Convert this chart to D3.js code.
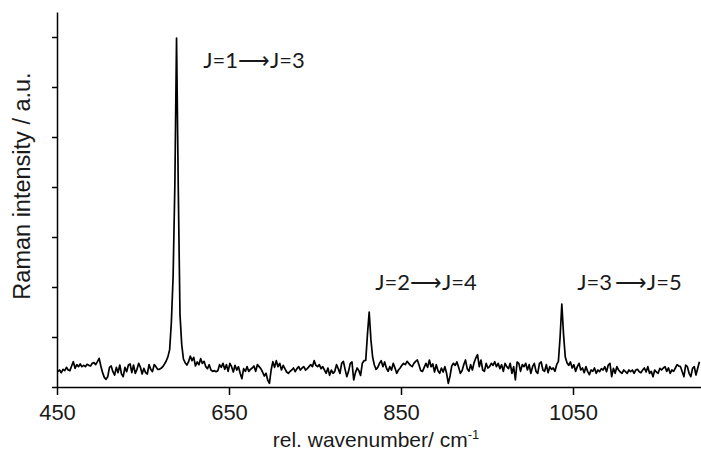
<!DOCTYPE html>
<html>
<head>
<meta charset="utf-8">
<script src="https://cdn.jsdelivr.net/npm/d3@7"></script>
<style>
  body { margin: 0; background: #fff; }
  svg { display: block; }
  .axis path, .axis line { stroke: #000; stroke-width: 1.5; }
  .axis text { font-family: "Liberation Sans", Arial, sans-serif; font-size: 22px; fill: #1a1a1a; }
  .axis-title { font-family: "Liberation Sans", Arial, sans-serif; font-size: 21px; fill: #1a1a1a; }
  .peak-label { font-family: Lato, "Open Sans", sans-serif; font-size: 22px; fill: #1a1a1a; }
</style>
</head>
<body>
<div id="chart"></div>
<script>
// Raman spectrum, sampled every 2 cm-1 from 451 to 1197 cm-1 (intensity in counts)
const wavenumberFirst = 451;
const wavenumberLast = 1197;
const wavenumberStep = 2;

const intensity = [
  // 451 - 567
  46, 51, 43, 53, 49, 59, 51, 49, 63, 76, 56, 67, 61, 69, 61, 65, 61, 68, 65, 63,
  71, 73, 67, 76, 86, 63, 43, 29, 23, 31, 59, 63, 46, 36, 59, 43, 66, 39, 31, 59,
  46, 66, 69, 43, 66, 41, 53, 71, 59, 39, 56, 43, 39, 67, 53, 46, 67, 61, 53,
  // 569 - 695
  53, 56, 61, 69, 78, 91, 112, 195, 330, 600, 1047, 600, 218, 128, 84, 73, 66, 76, 93, 79,
  89, 63, 75, 67, 85, 71, 77, 61, 55, 67, 51, 47, 49, 46, 49, 67, 59, 71, 53, 67,
  47, 71, 61, 45, 65, 51, 61, 41, 25, 55, 47, 61, 47, 53, 57, 63, 47, 67, 61, 55,
  45, 33, 41, 21,
  // 697 - 823
  11, 51, 76, 59, 79, 61, 71, 51, 65, 55, 45, 41, 47, 51, 57, 46, 55, 61, 51, 57,
  61, 51, 55, 61, 67, 61, 79, 65, 61, 67, 55, 61, 51, 41, 57, 35, 51, 41, 47, 67,
  55, 41, 71, 77, 53, 31, 47, 71, 75, 21, 43, 57, 49, 35, 71, 79, 80, 158, 225, 142,
  90, 66, 53, 59,
  // 825 - 951
  71, 79, 61, 75, 57, 47, 61, 51, 71, 57, 41, 51, 57, 65, 71, 67, 77, 71, 65, 61,
  71, 77, 81, 65, 49, 47, 59, 71, 59, 81, 61, 69, 45, 67, 49, 41, 57, 45, 61, 41,
  11, 33, 63, 71, 65, 75, 59, 41, 49, 67, 81, 55, 47, 67, 51, 73, 87, 97, 61, 81,
  51, 47, 71, 57,
  // 953 - 1079
  61, 71, 65, 76, 61, 71, 55, 67, 47, 71, 61, 55, 71, 41, 61, 21, 75, 71, 47, 67,
  61, 71, 51, 67, 41, 61, 71, 47, 41, 71, 75, 51, 47, 67, 43, 61, 53, 57, 47, 67,
  77, 150, 249, 158, 90, 73, 65, 75, 57, 67, 47, 61, 71, 51, 57, 43, 61, 47, 37, 51,
  47, 57, 41, 51,
  // 1081 - 1197
  46, 55, 51, 61, 46, 66, 71, 31, 56, 41, 61, 51, 45, 41, 51, 46, 41, 51, 46, 51,
  41, 51, 53, 46, 43, 51, 57, 45, 61, 41, 47, 31, 51, 45, 41, 56, 51, 57, 61, 47,
  57, 41, 51, 47, 57, 67, 63, 61, 46, 31, 66, 61, 41, 31, 56, 61, 36, 56, 76
];

const xTicks = [450, 650, 850, 1050];
const yTicks = [0, 150, 300, 450, 600, 750, 900, 1050];

const peakLabels = ["J=1\u27F6J=3", "J=2\u27F6J=4", "J=3\u2009\u27F6J=5"];
const peakLabelWavenumber = [620, 820, 1055];
const peakLabelIntensity = [957, 291, 291];

const width = 701;
const height = 454;

const margin = { top: 12, right: -1, bottom: 67, left: 57 };

const svg = d3
  .select("#chart")
  .append("svg")
  .attr("width", width)
  .attr("height", height);

const x = d3
  .scaleLinear()
  .domain([450, 1200])
  .range([margin.left, width - margin.right]);

const y = d3
  .scaleLinear()
  .domain([0, 1125])
  .range([height - margin.bottom, margin.top]);

const wavenumbers = d3.range(wavenumberFirst, wavenumberLast + 1, wavenumberStep);
const spectrum = wavenumbers.map((wn, i) => ({ wn, value: intensity[i] }));

// axes
svg
  .append("g")
  .attr("class", "axis x-axis")
  .attr("transform", `translate(0,${y(0)})`)
  .call(
    d3.axisBottom(x)
      .tickValues(xTicks)
      .tickFormat(d3.format("d"))
      .tickSizeInner(8)
      .tickSizeOuter(0)
      .tickPadding(9)
  );

svg
  .append("g")
  .attr("class", "axis y-axis")
  .attr("transform", `translate(${x(450)},0)`)
  .call(
    d3.axisLeft(y)
      .tickValues(yTicks)
      .tickFormat("")
      .tickSizeInner(5)
      .tickSizeOuter(0)
  );

// spectrum line
const line = d3
  .line()
  .x((d) => x(d.wn))
  .y((d) => y(d.value));

svg
  .append("path")
  .datum(spectrum)
  .attr("fill", "none")
  .attr("stroke", "#000")
  .attr("stroke-width", 1.7)
  .attr("stroke-linejoin", "round")
  .attr("d", line);

// axis titles
svg
  .append("text")
  .attr("class", "axis-title")
  .style("font-size", "23.5px")
  .attr("text-anchor", "middle")
  .attr("transform", "translate(30,186) rotate(-90)")
  .text("Raman intensity / a.u.");

const xTitle = svg
  .append("text")
  .attr("class", "axis-title")
  .attr("text-anchor", "middle")
  .attr("x", 376)
  .attr("y", 447);
xTitle.append("tspan").text("rel. wavenumber/ cm");
xTitle
  .append("tspan")
  .style("font-size", "13px")
  .attr("dy", "-8")
  .text("-1");

// peak assignments
svg
  .append("g")
  .selectAll("text")
  .data(peakLabels)
  .join("text")
  .attr("class", "peak-label")
  .attr("x", (d, i) => x(peakLabelWavenumber[i]))
  .attr("y", (d, i) => y(peakLabelIntensity[i]))
  .text((d) => d);
</script>
</body>
</html>
